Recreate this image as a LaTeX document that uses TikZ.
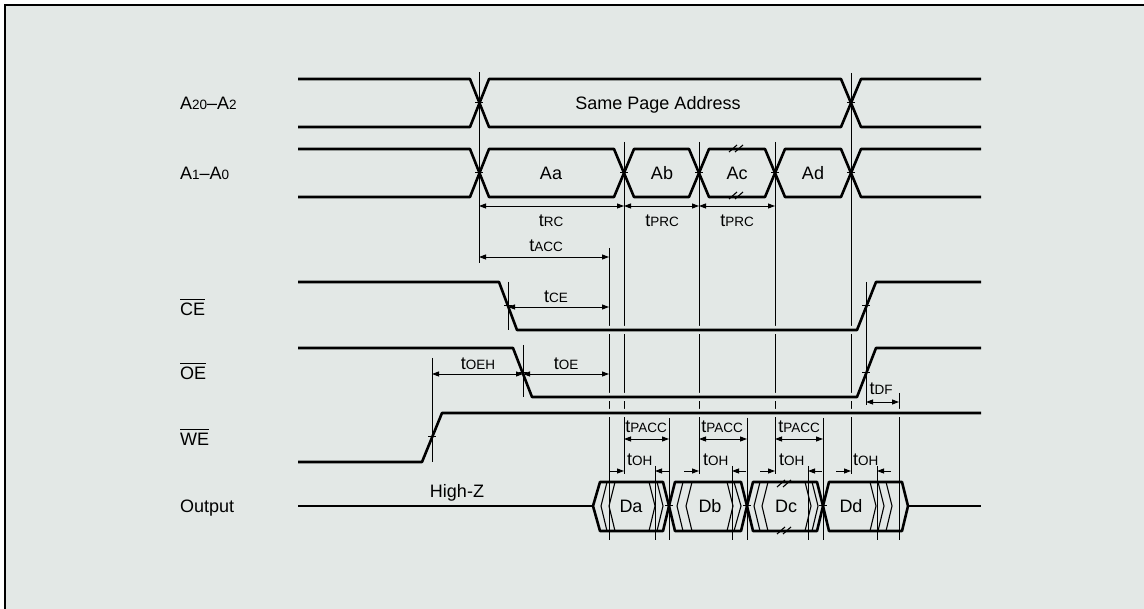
\documentclass[tikz,border=0pt]{standalone}
\usepackage{fontspec}
\setmainfont{Liberation Sans}
\usetikzlibrary{arrows.meta}
\definecolor{bg}{HTML}{E3E8E6}
\newcommand{\smx}[1]{{\fontsize{13.5}{14}\selectfont #1}}
\newcommand{\tl}[1]{t\smx{#1}}
\begin{document}
\begin{tikzpicture}[x=1pt,y=-1pt,
  >={Triangle[length=7pt,width=5pt]},
  sig/.style={line width=2.6pt,line join=round},
  sigh/.style={sig,preaction={draw=bg,line width=8pt}},
  vl/.style={line width=1pt},
  hat/.style={line width=1.1pt},
  dim/.style={<->,line width=0.9pt},
  arr/.style={->,line width=0.9pt},
  lbl/.style={inner sep=0pt,font=\fontsize{18}{20}\selectfont},
  ovl/.style={line width=1pt}]
\useasboundingbox (0,0) rectangle (1144,609);
\fill[white] (0,0) rectangle (1144,609);
\fill[bg] (4,4) rectangle (1144,609);
\draw[line width=2pt] (5,609) -- (5,5) -- (1144,5);

% long reference lines
\draw[vl] (479,72) -- (479,263);
\draw[vl] (851,73) -- (851,474);
\foreach \x in {624,699,775} \draw[vl] (\x,142) -- (\x,474);
\draw[vl] (609,248) -- (609,540);
\draw[vl] (899,393) -- (899,540);
\foreach \x in {669,747,823} \draw[vl] (\x,418) -- (\x,540);
\foreach \x in {655,732,808,877} \draw[vl] (\x,466) -- (\x,540);

% control signals
\draw[sigh] (298,282) -- (499,282) -- (517,330) -- (857,330) -- (876,282) -- (981,282);
\draw[sigh] (298,348) -- (513,348) -- (532,397) -- (857,397) -- (876,348) -- (981,348);
\draw[sigh] (298,462) -- (422,462) -- (442,413) -- (981,413);

% address buses
\draw[sig] (298,79) -- (470,79) -- (489,127) -- (841,127) -- (861,79) -- (981,79);
\draw[sig] (298,127) -- (470,127) -- (489,79) -- (841,79) -- (861,127) -- (981,127);
\draw[sig] (298,149) -- (470,149) -- (489,197) -- (614,197) -- (634,149) -- (689,149) -- (709,197) -- (765,197) -- (785,149) -- (841,149) -- (861,197) -- (981,197);
\draw[sig] (298,197) -- (470,197) -- (489,149) -- (614,149) -- (634,197) -- (689,197) -- (709,149) -- (765,149) -- (785,197) -- (841,197) -- (861,149) -- (981,149);

% output
\draw[sig] (298,506) -- (593,506);
\draw[sig] (908,506) -- (981,506);
\draw[sig] (593,506) -- (600,482) -- (663,482) -- (669,506) -- (663,531) -- (600,531) -- cycle;
\draw[sig] (669,506) -- (675,482) -- (741,482) -- (747,506) -- (741,531) -- (675,531) -- cycle;
\draw[sig] (747,506) -- (753,482) -- (817,482) -- (823,506) -- (817,531) -- (753,531) -- cycle;
\draw[sig] (823,506) -- (829,482) -- (902,482) -- (908,506) -- (902,531) -- (829,531) -- cycle;
\foreach \t/\p in {607/601,615/609,683/677,692/686,760/754,768/762}
  \draw[hat] (\t,482) -- (\p,506) -- (\t,531);
\foreach \t/\p in {649/655,657/663,727/733,734/741,805/811,812/818,870/876,878/884,886/892}
  \draw[hat] (\t,482) -- (\p,506) -- (\t,531);

% break marks
\foreach \x/\y in {729/152,735/152,729/199,735/199,777/487,783/487,777/534,783/534}
  \draw[hat] (\x,\y) -- (\x+8,\y-7);

% crossing lines
\draw[vl] (508,282) -- (508,330);
\draw[vl] (523,345) -- (523,397);
\draw[vl] (432,358) -- (432,462);
\draw[vl] (866,282) -- (866,405);
\foreach \x/\y in {479/103,479/173,624/173,699/173,775/173,851/173,851/103,508/306,523/373,432/437,866/306,866/373,669/506,747/506,823/506}
  \draw[vl] (\x-4,\y) -- (\x+4,\y);

% dimension arrows
\draw[dim] (479,206) -- (624,206);
\draw[dim] (624,206) -- (699,206);
\draw[dim] (699,206) -- (775,206);
\draw[dim] (479,257) -- (609,257);
\draw[dim] (508,307) -- (609,307);
\draw[dim] (432,374) -- (523,374);
\draw[dim] (523,374) -- (609,374);
\draw[dim] (866,402) -- (899,402);
\draw[dim] (624,439) -- (669,439);
\draw[dim] (699,439) -- (747,439);
\draw[dim] (775,439) -- (823,439);
\foreach \a/\h in {624/655,699/732,775/808,851/877}{
  \draw[arr] (\a-15,471) -- (\a,471);
  \draw[arr] (\h+14,471) -- (\h,471);
}

% signal names
\node[lbl,anchor=base west] (la2) at (180,110) {A\smx{20}–A\smx{2}};
\node[lbl,anchor=base west] (la0) at (180,180) {A\smx{1}–A\smx{0}};
\node[lbl,anchor=base west] (lce) at (180,316) {CE};
\node[lbl,anchor=base west] (loe) at (180,380) {OE};
\node[lbl,anchor=base west] (lwe) at (180,446) {WE};
\node[lbl,anchor=base west] (lout) at (180,512) {Output};
\foreach \n in {lce,loe,lwe}
  \draw[ovl] ([yshift=4pt]\n.north west) -- ([yshift=4pt]\n.north east);

% bus texts
\node[lbl,anchor=base] (spa) at (658,110) {Same Page Address};
\node[lbl,anchor=base] (aa) at (551,180) {Aa};
\node[lbl,anchor=base] (ab) at (662,180) {Ab};
\node[lbl,anchor=base] (ac) at (737,180) {Ac};
\node[lbl,anchor=base] (ad) at (813,180) {Ad};
\node[lbl,anchor=base] (da) at (631,513) {Da};
\node[lbl,anchor=base] (db) at (710,513) {Db};
\node[lbl,anchor=base] (dc) at (786,513) {Dc};
\node[lbl,anchor=base] (dd) at (851,513) {Dd};
\node[lbl,anchor=base] (hz) at (457,498) {High-Z};

% timing labels
\node[lbl,anchor=base] (trc) at (551,227) {\tl{RC}};
\node[lbl,anchor=base] (tprc1) at (662,227) {\tl{PRC}};
\node[lbl,anchor=base] (tprc2) at (737,227) {\tl{PRC}};
\node[lbl,anchor=base] (tacc) at (546,252) {\tl{ACC}};
\node[lbl,anchor=base] (tce) at (556,303) {\tl{CE}};
\node[lbl,anchor=base] (toeh) at (478,370) {\tl{OEH}};
\node[lbl,anchor=base] (toe) at (566,370) {\tl{OE}};
\node[lbl,anchor=base] (tdf) at (881,395) {\tl{DF}};
\node[lbl,anchor=base] (tp1) at (646,433) {\tl{PACC}};
\node[lbl,anchor=base] (tp2) at (722,433) {\tl{PACC}};
\node[lbl,anchor=base] (tp3) at (799,433) {\tl{PACC}};
\node[lbl,anchor=base west] (toh1) at (627,466) {\tl{OH}};
\node[lbl,anchor=base west] (toh2) at (703,466) {\tl{OH}};
\node[lbl,anchor=base west] (toh3) at (779,466) {\tl{OH}};
\node[lbl,anchor=base west] (toh4) at (853,466) {\tl{OH}};
\end{tikzpicture}
\end{document}
